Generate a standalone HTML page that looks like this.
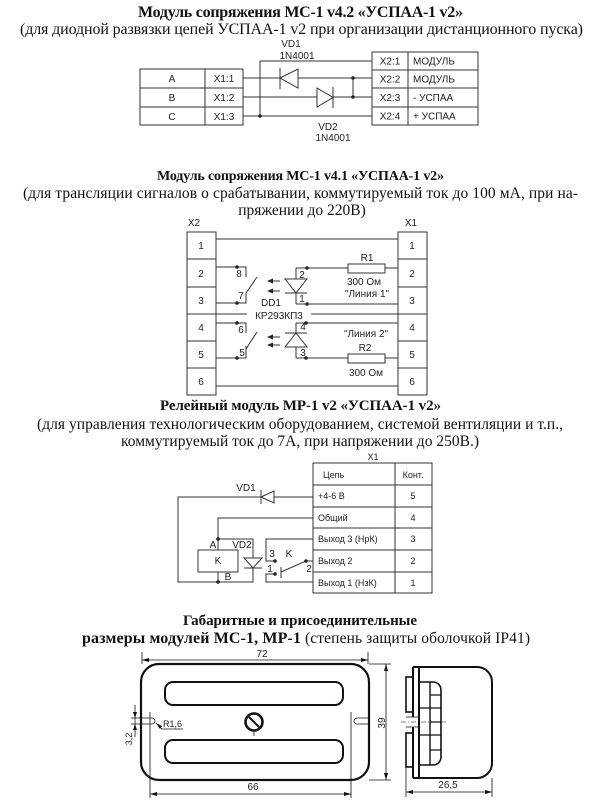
<!DOCTYPE html>
<html><head><meta charset="utf-8"><style>
html,body{margin:0;padding:0;background:#fff;}
svg{display:block;}
.l{stroke:#333;stroke-width:1;fill:none;}
.k{stroke:#111;fill:none;}
.s{font-family:"Liberation Sans","DejaVu Sans",sans-serif;font-size:10px;fill:#222;}
.sm{font-family:"Liberation Sans","DejaVu Sans",sans-serif;font-size:9px;fill:#222;}
.tb{font-family:"Liberation Serif","Noto Serif CJK SC",serif;font-weight:bold;fill:#111;}
.tn{font-family:"Liberation Serif","Noto Serif CJK SC",serif;fill:#111;}
</style></head><body>
<svg width="600" height="805" viewBox="0 0 600 805" xmlns="http://www.w3.org/2000/svg">
<rect width="600" height="805" fill="#fff"/>

<!-- ===== Section 1 ===== -->
<text class="tb" x="138" y="17" font-size="16" textLength="325">Модуль сопряжения МС-1 v4.2 «УСПАА-1 v2»</text>
<text class="tn" x="20" y="34" font-size="16" textLength="563">(для диодной развязки цепей УСПАА-1 v2 при организации дистанционного пуска)</text>

<rect x="140" y="69" width="103" height="56" class="l"/>
<path d="M205,69V125M140,88H243M140,107H243" class="l"/>
<text class="s" x="172" y="82" text-anchor="middle">A</text>
<text class="s" x="172" y="101" text-anchor="middle">B</text>
<text class="s" x="172" y="120" text-anchor="middle">C</text>
<text class="s" x="224" y="82" text-anchor="middle">X1:1</text>
<text class="s" x="224" y="101" text-anchor="middle">X1:2</text>
<text class="s" x="224" y="120" text-anchor="middle">X1:3</text>

<rect x="372" y="52" width="106" height="73" class="l"/>
<path d="M408,52V125M372,70H478M372,88H478M372,107H478" class="l"/>
<text class="s" x="390" y="64.5" text-anchor="middle">X2:1</text>
<text class="s" x="390" y="82.5" text-anchor="middle">X2:2</text>
<text class="s" x="390" y="101" text-anchor="middle">X2:3</text>
<text class="s" x="390" y="119.5" text-anchor="middle">X2:4</text>
<text class="s" x="413" y="64.5">МОДУЛЬ</text>
<text class="s" x="413" y="82.5">МОДУЛЬ</text>
<text class="s" x="413" y="101">- УСПАА</text>
<text class="s" x="413" y="119.5">+ УСПАА</text>

<path d="M260,61H372M260,61V116M243,78H372M243,97H372M243,116H372M353,78V97" class="l"/>
<polygon points="280,78 298,69 298,88" fill="#fff" stroke="#333"/>
<path d="M280,68V89" class="l"/>
<polygon points="317,88 317,107 333,97.5" fill="#fff" stroke="#333"/>
<path d="M333,87V108" class="l"/>
<circle cx="260" cy="116" r="1.8" fill="#222"/>
<circle cx="353" cy="78" r="1.8" fill="#222"/>
<circle cx="353" cy="97" r="1.8" fill="#222"/>
<text class="s" x="291" y="47" text-anchor="middle">VD1</text>
<text class="s" x="297" y="59" text-anchor="middle">1N4001</text>
<text class="s" x="328" y="130" text-anchor="middle">VD2</text>
<text class="s" x="333" y="141" text-anchor="middle">1N4001</text>

<!-- ===== Section 2 ===== -->
<text class="tb" x="157" y="180" font-size="14" textLength="287">Модуль сопряжения МС-1 v4.1 «УСПАА-1 v2»</text>
<text class="tn" x="23" y="198" font-size="15.5" textLength="555">(для трансляции сигналов о срабатывании, коммутируемый ток до 100 мА, при на-</text>
<text class="tn" x="302" y="215" font-size="15.5" text-anchor="middle">пряжении до 220В)</text>

<text class="s" x="194" y="226" text-anchor="middle">X2</text>
<text class="s" x="411" y="226" text-anchor="middle">X1</text>

<rect x="187" y="232" width="29" height="163" class="l"/>
<path d="M187,259H216M187,287H216M187,314H216M187,341H216M187,368H216" class="l"/>
<rect x="398" y="232" width="29" height="163" class="l"/>
<path d="M398,259H427M398,287H427M398,314H427M398,341H427M398,368H427" class="l"/>
<g class="s" text-anchor="middle">
<text x="201" y="249">1</text><text x="201" y="277">2</text><text x="201" y="304">3</text>
<text x="201" y="331">4</text><text x="201" y="358">5</text><text x="201" y="385">6</text>
<text x="412" y="249">1</text><text x="412" y="277">2</text><text x="412" y="304">3</text>
<text x="412" y="331">4</text><text x="412" y="358">5</text><text x="412" y="385">6</text>
</g>

<path d="M216,239H398M216,314H247M311,314H398M216,386H398" class="l"/>
<!-- upper switch -->
<path d="M216,267H246V277M216,303H246V293M246,293L257,277" class="l"/>
<circle cx="237" cy="267" r="1.8" fill="#222"/>
<circle cx="237" cy="303" r="1.8" fill="#222"/>
<text class="s" x="239" y="277" text-anchor="middle">8</text>
<text class="s" x="241" y="299" text-anchor="middle">7</text>
<!-- arrows upper -->
<path d="M268,281H280M268,291H280" class="l"/>
<polygon points="267,281 273,278.5 273,283.5" fill="#222"/>
<polygon points="267,291 273,288.5 273,293.5" fill="#222"/>
<!-- diode 1 -->
<path d="M296,268V304M296,268H348M385,268H398M296,304H398" class="l"/>
<polygon points="285,279 307,279 296,293" fill="#fff" stroke="#333"/>
<path d="M285,293H307" class="l"/>
<circle cx="307" cy="268" r="1.8" fill="#222"/>
<circle cx="307" cy="304" r="1.8" fill="#222"/>
<text class="s" x="302" y="278" text-anchor="middle">2</text>
<text class="s" x="302" y="302" text-anchor="middle">1</text>
<rect x="348" y="264" width="37" height="9" class="l" fill="#fff"/>
<text class="s" x="367" y="261" text-anchor="middle">R1</text>
<text class="s" x="364" y="285" text-anchor="middle">300  Ом</text>
<text class="s" x="367" y="297" text-anchor="middle">"Линия 1"</text>
<text class="s" x="271" y="306" text-anchor="middle">DD1</text>
<text class="s" x="279" y="319" text-anchor="middle">КР293КП3</text>
<!-- lower switch -->
<path d="M216,323H246V333M216,358H246V346M246,349L257,332" class="l"/>
<circle cx="237" cy="323" r="1.8" fill="#222"/>
<circle cx="237" cy="358" r="1.8" fill="#222"/>
<text class="s" x="241" y="333" text-anchor="middle">6</text>
<text class="s" x="242" y="356" text-anchor="middle">5</text>
<path d="M268,337H280M268,345H280" class="l"/>
<polygon points="267,337 273,334.5 273,339.5" fill="#222"/>
<polygon points="267,345 273,342.5 273,347.5" fill="#222"/>
<!-- diode 2 -->
<path d="M296,323V358M296,323H398M296,358H348M385,358H398" class="l"/>
<polygon points="285,347 307,347 296,333" fill="#fff" stroke="#333"/>
<path d="M285,333H307" class="l"/>
<circle cx="306" cy="323" r="1.8" fill="#222"/>
<circle cx="306" cy="358" r="1.8" fill="#222"/>
<text class="s" x="303" y="330" text-anchor="middle">4</text>
<text class="s" x="303" y="356" text-anchor="middle">3</text>
<rect x="348" y="354" width="37" height="9" class="l" fill="#fff"/>
<text class="s" x="366" y="337" text-anchor="middle">"Линия 2"</text>
<text class="s" x="365" y="351" text-anchor="middle">R2</text>
<text class="s" x="366" y="376" text-anchor="middle">300 Ом</text>

<!-- ===== Section 3 ===== -->
<text class="tb" x="160" y="410" font-size="15" textLength="281">Релейный модуль МР-1 v2 «УСПАА-1 v2»</text>
<text class="tn" x="37" y="429" font-size="15.5" textLength="526">(для управления технологическим оборудованием, системой вентиляции и т.п.,</text>
<text class="tn" x="121" y="446" font-size="15.5" textLength="358">коммутируемый ток до 7А, при напряжении до 250В.)</text>

<text class="sm" x="373" y="460" text-anchor="middle">X1</text>
<rect x="313" y="463" width="119" height="130" class="l"/>
<path d="M395,463V593M313,485H432M313,507H432M313,528H432M313,550H432M313,572H432" class="l"/>
<text class="sm" x="323" y="478">Цепь</text>
<text class="sm" x="413" y="478" text-anchor="middle">Конт.</text>
<text class="sm" x="318" y="499">+4-6 В</text>
<text class="sm" x="318" y="521">Общий</text>
<text class="sm" x="318" y="542">Выход 3 (НрК)</text>
<text class="sm" x="318" y="564">Выход 2</text>
<text class="sm" x="318" y="586">Выход 1 (НзК)</text>
<text class="sm" x="413" y="499" text-anchor="middle">5</text>
<text class="sm" x="413" y="521" text-anchor="middle">4</text>
<text class="sm" x="413" y="542" text-anchor="middle">3</text>
<text class="sm" x="413" y="564" text-anchor="middle">2</text>
<text class="sm" x="413" y="586" text-anchor="middle">1</text>

<path d="M313,497H178V582H253V539H218V518H313M218,539V550M218,572V582" class="l"/>
<polygon points="261,497 274,491 274,503" fill="#fff" stroke="#333"/>
<path d="M261,490V504" class="l"/>
<text class="s" x="246" y="491" text-anchor="middle">VD1</text>
<rect x="198" y="550" width="40" height="22" class="l"/>
<text class="s" x="218" y="564" text-anchor="middle">K</text>
<text class="s" x="213" y="548" text-anchor="middle">A</text>
<text class="s" x="242" y="548" text-anchor="middle">VD2</text>
<text class="s" x="228" y="580" text-anchor="middle">B</text>
<circle cx="218" cy="539" r="1.8" fill="#222"/>
<circle cx="218" cy="582" r="1.8" fill="#222"/>
<polygon points="244,558 262,558 253,568" fill="#fff" stroke="#333"/>
<path d="M244,568H262" class="l"/>
<!-- relay contacts -->
<path d="M313,539H266V561H275M313,582H266V574H275M313,561H306L281,572M281,567V578" class="l"/>
<circle cx="275" cy="561" r="1.8" fill="#222"/>
<circle cx="275" cy="574" r="1.8" fill="#222"/>
<circle cx="306" cy="561" r="1.8" fill="#222"/>
<text class="s" x="272" y="557" text-anchor="middle">3</text>
<text class="s" x="289" y="557" text-anchor="middle">K</text>
<text class="s" x="270" y="572" text-anchor="middle">1</text>
<text class="s" x="309" y="572" text-anchor="middle">2</text>

<!-- ===== Section 4 ===== -->
<text class="tb" x="183" y="625" font-size="15" textLength="234">Габаритные и присоединительные</text>
<text class="tb" x="82" y="643" font-size="16" textLength="219">размеры модулей МС-1, МР-1</text>
<text class="tn" x="305" y="643" font-size="15.5" textLength="225">(степень защиты оболочкой IP41)</text>

<!-- front view -->
<rect x="141" y="664" width="228" height="116" rx="18" ry="18" class="k" stroke-width="2.2"/>
<rect x="165" y="682" width="178" height="23" rx="8" ry="8" class="k" stroke-width="2"/>
<rect x="165" y="740" width="178" height="23" rx="8" ry="8" class="k" stroke-width="2"/>
<circle cx="254" cy="722" r="8.5" class="k" stroke-width="2.6"/>
<path d="M249,717L259,727" class="k" stroke-width="2"/>
<path d="M254,732V736" class="k" stroke-width="0.8"/>
<!-- holes -->
<path d="M131,718H152A3,3 0 0 1 152,724H131" class="k" stroke-width="0.8"/>
<path d="M370,718H357A3,3 0 0 0 357,724H370" class="k" stroke-width="0.8"/>
<!-- dim 72 -->
<path d="M142,652V664M368,652V664M142,660H368" class="k" stroke-width="0.8"/>
<polygon points="142,660 149,658 149,662" fill="#111"/>
<polygon points="368,660 361,658 361,662" fill="#111"/>
<text class="s" x="262" y="657" text-anchor="middle">72</text>
<!-- dim 39 -->
<path d="M369,664H391M369,780H391M386,664V780" class="k" stroke-width="0.8"/>
<polygon points="386,664 384,671 388,671" fill="#111"/>
<polygon points="386,780 384,773 388,773" fill="#111"/>
<text class="s" transform="translate(385,723) rotate(-90)" text-anchor="middle">39</text>
<!-- dim 66 -->
<path d="M150,712V798M351,712V798M150,794H351" class="k" stroke-width="0.8"/>
<polygon points="150,794 157,792 157,796" fill="#111"/>
<polygon points="351,794 344,792 344,796" fill="#111"/>
<text class="s" x="253" y="790" text-anchor="middle">66</text>
<!-- dim 3,2 -->
<path d="M135,705V737" class="k" stroke-width="0.8"/>
<polygon points="135,718 133,712 137,712" fill="#111"/>
<polygon points="135,724 133,730 137,730" fill="#111"/>
<text class="sm" transform="translate(132,739) rotate(-90)" text-anchor="middle">3,2</text>
<!-- R1,6 -->
<path d="M156,723L162,729H183" class="k" stroke-width="0.8"/>
<polygon points="156,723 160,729 162,726" fill="#111"/>
<text class="sm" x="163" y="727">R1,6</text>

<!-- side view -->
<path d="M413,667H477A15,15 0 0 1 492,682V763A15,15 0 0 1 477,778H413" class="k" stroke-width="2"/>
<path d="M413,667V717M413,727V778M419,667V778" class="k" stroke-width="2"/>
<rect x="406" y="677" width="7" height="35" class="k" stroke-width="1.6"/>
<rect x="406" y="733" width="7" height="34" class="k" stroke-width="1.6"/>
<path d="M406,717H419M406,727H419" class="k" stroke-width="0.8"/>
<path d="M401,722H447" class="k" stroke-width="0.6" stroke-dasharray="5,2,1,2"/>
<path d="M419,682H433A8,8 0 0 1 441,690V757A8,8 0 0 1 433,765H419" class="k" stroke-width="1.6"/>
<path d="M430,682V765" class="k" stroke-width="1.4"/>
<path d="M430,695H441M430,708H441M430,722H441M430,735H441M430,750H441M419,708H430M419,735H430" class="k" stroke-width="1.2"/>
<!-- dim 26,5 -->
<path d="M406,767V797M492,778V797M406,792H492" class="k" stroke-width="0.8"/>
<polygon points="406,792 413,790 413,794" fill="#111"/>
<polygon points="492,792 485,790 485,794" fill="#111"/>
<text class="s" x="448" y="788" text-anchor="middle">26,5</text>
</svg>
</body></html>
